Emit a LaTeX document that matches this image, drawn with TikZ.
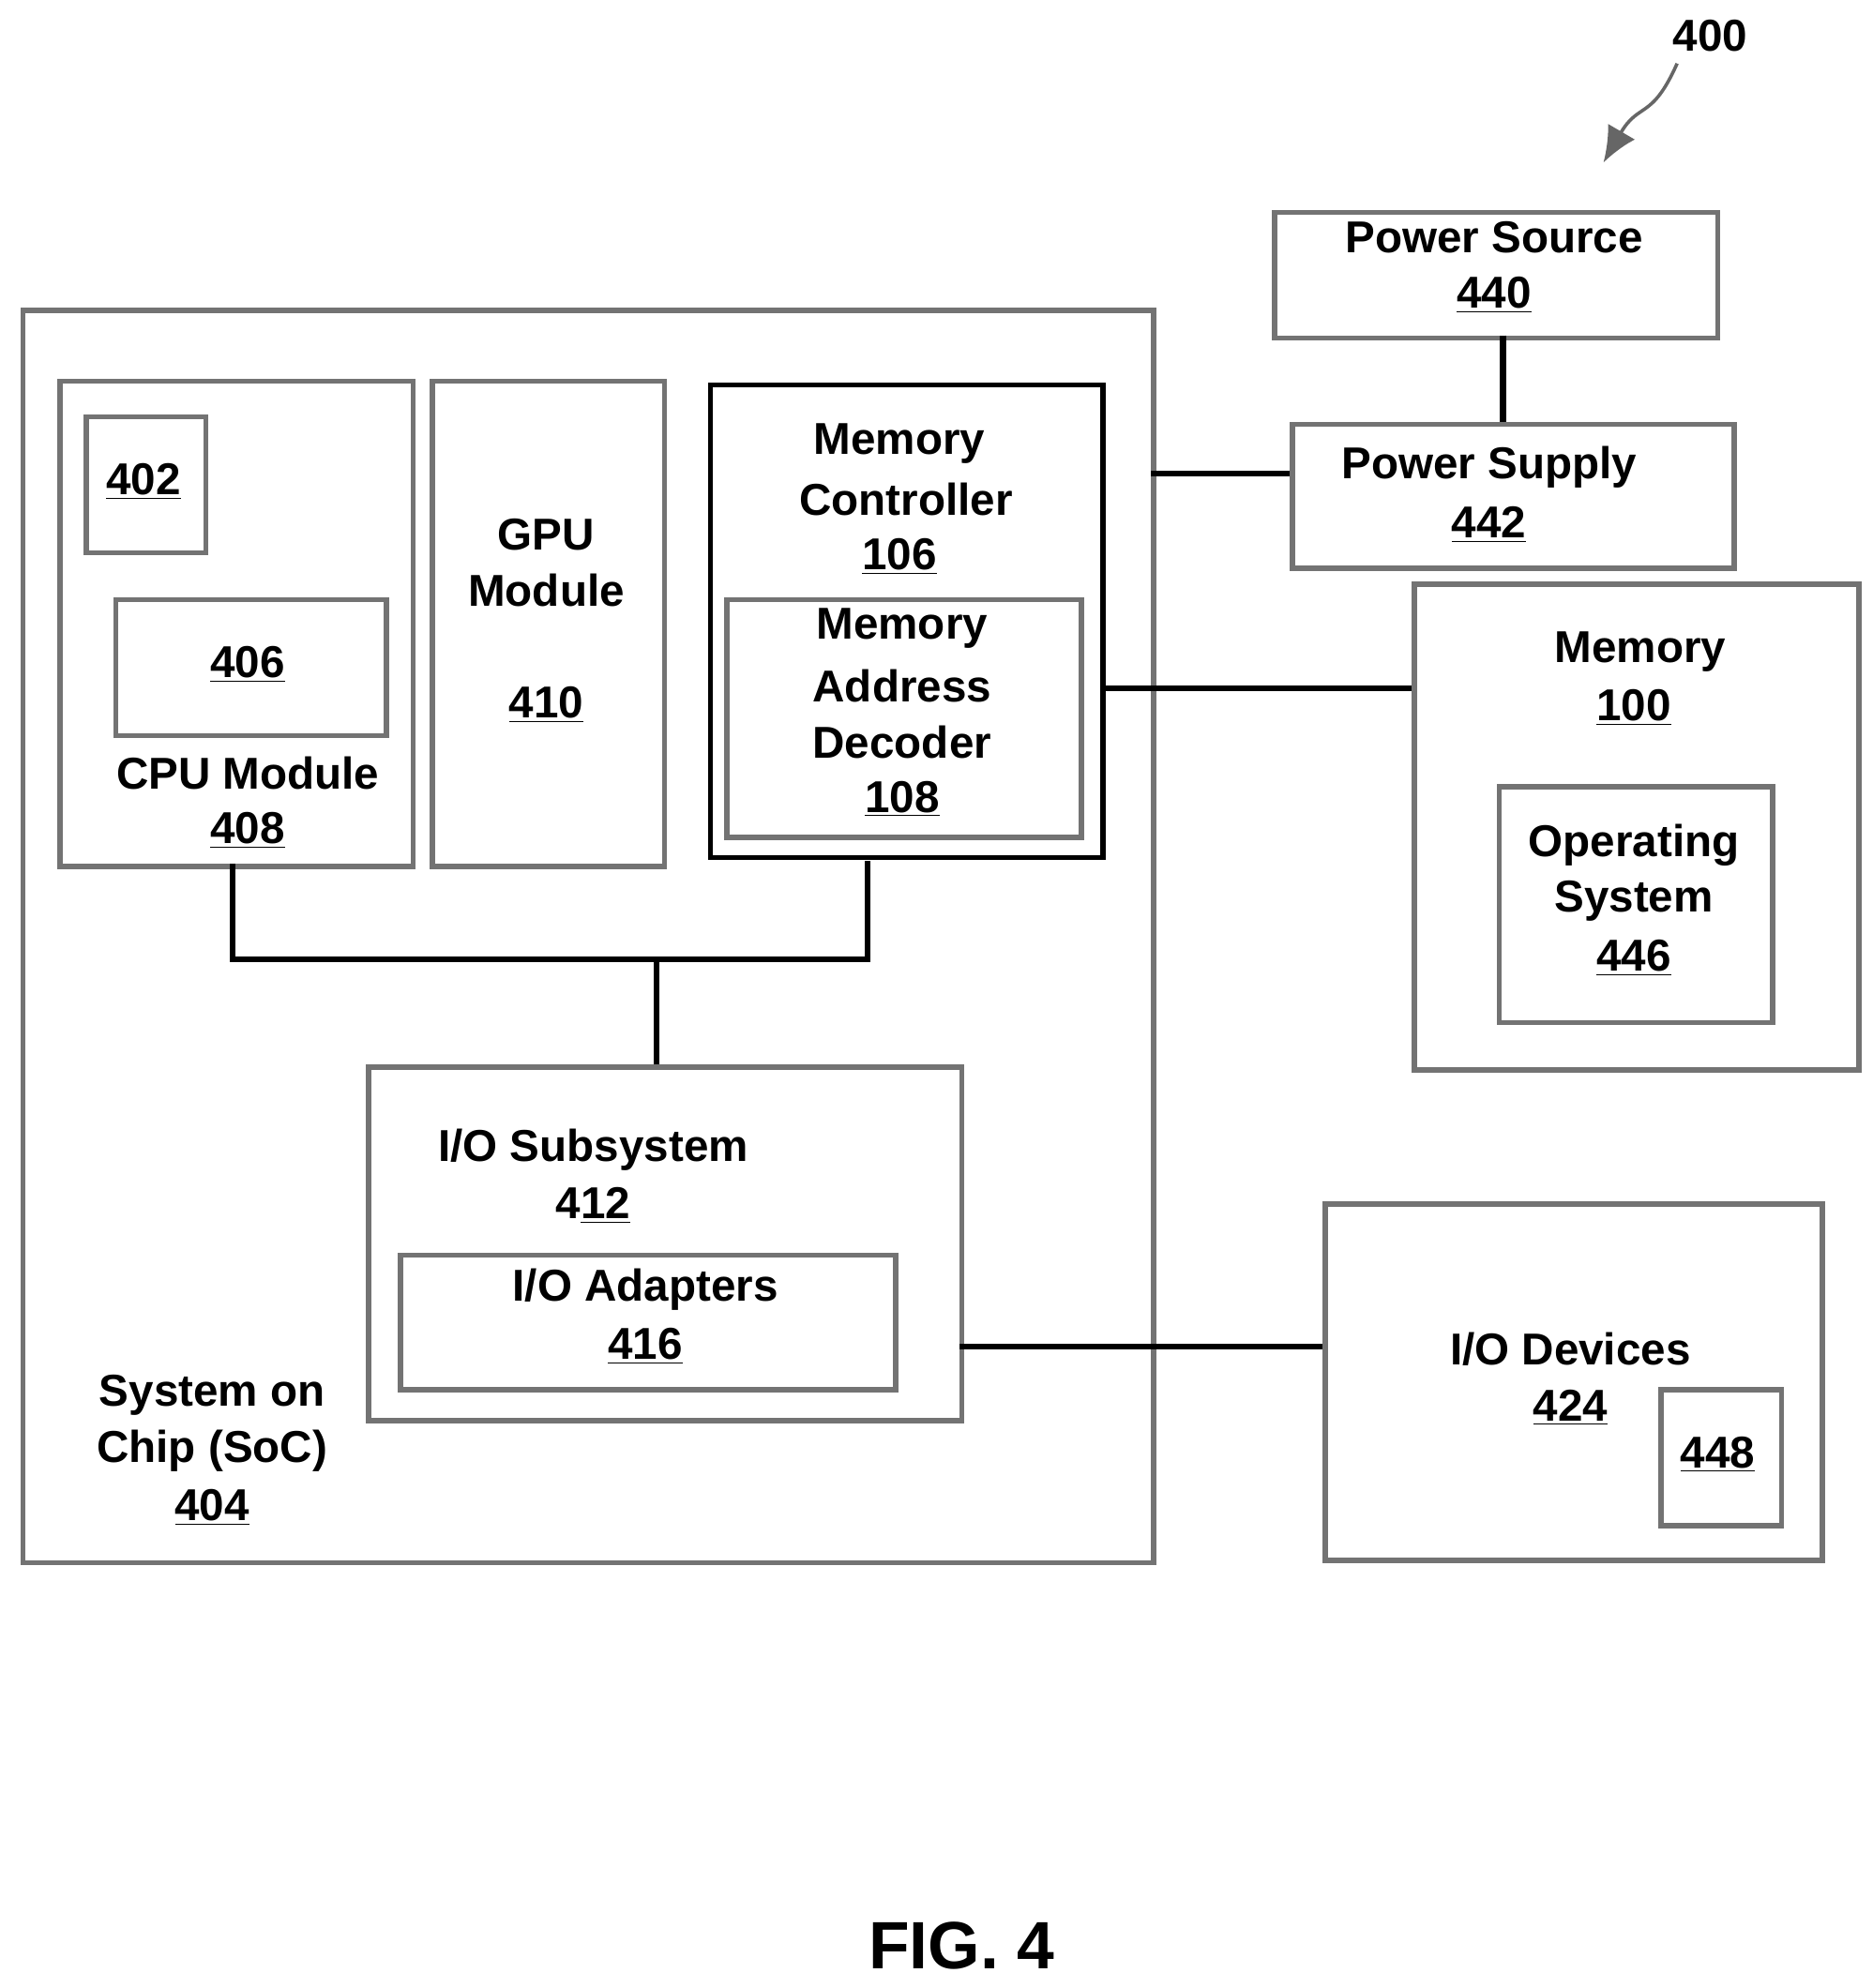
\documentclass[tikz,border=0pt]{standalone}
\usepackage{fontspec}
\setmainfont{Liberation Sans}
\usetikzlibrary{decorations.pathmorphing,arrows.meta}
\begin{document}
\begin{tikzpicture}[x=0.02cm,y=-0.02cm,
  box/.style={draw=black!55,line width=2.4pt,anchor=north west,inner sep=0pt},
  sbox/.style={draw=black,line width=2.4pt,anchor=north west,inner sep=0pt},
  t/.style={font=\fontsize{20}{24}\selectfont\bfseries,inner sep=0pt,align=center},
  con/.style={line width=2.6pt}]
\useasboundingbox (0,0) rectangle (1474,1565);
\newcommand\bx[5]{\node[box,minimum width={(#4-#2)*0.02cm},minimum height={(#5-#3)*0.02cm}] (#1) at (#2,#3) {};}
\bx{soc}{16}{242}{906}{1228}
\bx{cpu}{45}{298}{323}{680}
\bx{b402}{66}{326}{160}{433}
\bx{b406}{89}{470}{302}{577}
\bx{gpu}{338}{298}{521}{680}
\node[sbox,minimum width={309*0.02cm},minimum height={372*0.02cm}] (mc) at (557,301) {};
\bx{mad}{570}{470}{849}{657}
\bx{psrc}{1001}{165}{1350}{264}
\bx{psup}{1015}{332}{1363}{445}
\bx{mem}{1111}{458}{1461}{840}
\bx{os}{1178}{617}{1393}{803}
\bx{ios}{288}{838}{755}{1116}
\bx{ioa}{313}{986}{703}{1092}
\bx{iod}{1041}{946}{1432}{1226}
\bx{b448}{1305}{1092}{1400}{1199}
% texts
\node[t] (t402) at (113,379) {\underline{402}};
\node[t] (t406) at (195,523) {\underline{406}};
\node[t] (t408a) at (195,609) {CPU Module};
\node[t] (t408b) at (195,654) {\underline{408}};
\node[t] (tg1) at (430,421) {GPU};
\node[t] (tg2) at (430,465) {Module};
\node[t] (tg3) at (430,555) {\underline{410}};
\node[t] (tm1) at (708,349) {Memory};
\node[t] (tm2) at (713,393) {Controller};
\node[t] (tm3) at (708,438) {\underline{106}};
\node[t] (td1) at (710,495) {Memory};
\node[t] (td2) at (710,540) {Address};
\node[t] (td3) at (710,584) {Decoder};
\node[t] (td4) at (710,629) {\underline{108}};
\node[t] (tp1) at (1176,187) {Power Source};
\node[t] (tp2) at (1176,232) {\underline{440}};
\node[t] (tq1) at (1172,368) {Power Supply};
\node[t] (tq2) at (1172,413) {\underline{442}};
\node[t] (tr1) at (1291,513) {Memory};
\node[t] (tr2) at (1286,557) {\underline{100}};
\node[t] (to1) at (1286,665) {Operating};
\node[t] (to2) at (1286,709) {System};
\node[t] (to3) at (1286,754) {\underline{446}};
\node[t] (ti1) at (467,905) {I/O Subsystem};
\node[t] (ti2) at (467,949) {4\underline{12}};
\node[t] (ta1) at (508,1015) {I/O Adapters};
\node[t] (ta2) at (508,1060) {\underline{416}};
\node[t] (ts1) at (167,1098) {System on};
\node[t] (ts2) at (167,1142) {Chip (SoC)};
\node[t] (ts3) at (167,1187) {\underline{404}};
\node[t] (tv1) at (1236,1062) {I/O Devices};
\node[t] (tv2) at (1236,1108) {\underline{424}};
\node[t] (t448) at (1352,1145) {\underline{448}};
\node[t,font=\fontsize{30}{34}\selectfont\bfseries] (fig) at (757,1532) {FIG. 4};
\node[t] (t400) at (1346,28) {400};
% connectors
\coordinate (j1) at (183,755); \coordinate (j2) at (683,755); \coordinate (j3) at (517,755);
\draw[con] (183,680) -- (j1) -- (j2) -- (683,678);
\draw[con] (j3) -- (517,838);
\draw[con] (1183,264) -- (1183,332);
\draw[con] (906,373) -- (1015,373);
\draw[con] (866,542) -- (1111,542);
\draw[con] (755,1060) -- (1041,1060);
\coordinate (a0) at (1320,50); \coordinate (a1) at (1262,128);
\draw[line width=1.5pt,black!60,-{Latex[length=16pt,width=14pt]}] (a0) .. controls (1300,95) and (1290,80) .. (a1);
\end{tikzpicture}
\end{document}
